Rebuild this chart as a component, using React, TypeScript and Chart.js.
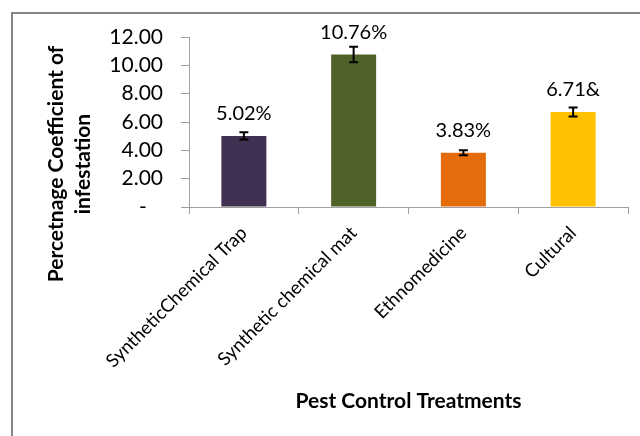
import React, { useEffect, useRef } from "react";
import { Chart, registerables } from "chart.js";

Chart.register(...registerables);

const categories = ["SyntheticChemical Trap", "Synthetic chemical mat", "Ethnomedicine", "Cultural"];
const values = [5.02, 10.76, 3.83, 6.71];
const errors = [0.25, 0.55, 0.17, 0.32];
const valueLabels = ["5.02%", "10.76%", "3.83%", "6.71&"];
const barColors = ["#403152", "#4F6228", "#E46C0A", "#FFC000"];
const yTicks = [0, 2, 4, 6, 8, 10, 12];
const yTitleLines = ["Percetnage Coefficient of", "infestation"];
const xTitle = "Pest Control Treatments";

const FONT = "Lato, 'Open Sans', sans-serif";

const decor = {
  id: "decor",
  beforeDraw(chart: any) {
    const ctx = chart.ctx;
    ctx.save();
    ctx.fillStyle = "#ffffff";
    ctx.fillRect(0, 0, chart.width, chart.height);
    ctx.fillStyle = "#868686";
    ctx.fillRect(11, 12, 2, chart.height - 12);
    ctx.fillRect(11, 12, chart.width - 11, 2);
    ctx.restore();
  },
  afterDatasetsDraw(chart: any) {
    const ctx = chart.ctx;
    const meta = chart.getDatasetMeta(0);
    const ys = chart.scales.y;
    ctx.save();
    meta.data.forEach((bar: any, i: number) => {
      const x = bar.x;
      const top = ys.getPixelForValue(values[i] + errors[i]);
      const bot = ys.getPixelForValue(values[i] - errors[i]);
      ctx.strokeStyle = "#000000";
      ctx.lineWidth = 2;
      ctx.beginPath();
      ctx.moveTo(x, top);
      ctx.lineTo(x, bot);
      ctx.moveTo(x - 4.5, top);
      ctx.lineTo(x + 4.5, top);
      ctx.moveTo(x - 4.5, bot);
      ctx.lineTo(x + 4.5, bot);
      ctx.stroke();
      ctx.fillStyle = "#000000";
      ctx.font = `20px ${FONT}`;
      ctx.textAlign = "center";
      ctx.textBaseline = "alphabetic";
      ctx.fillText(valueLabels[i], x, bar.y - 15.5);
    });
    // axis titles
    const area = chart.chartArea;
    ctx.fillStyle = "#000000";
    ctx.font = `bold 21px ${FONT}`;
    ctx.textAlign = "center";
    ctx.textBaseline = "alphabetic";
    ctx.fillText(xTitle, (area.left + area.right) / 2, 408);
    ctx.save();
    ctx.translate(0, 164);
    ctx.rotate(-Math.PI / 2);
    ctx.fillText(yTitleLines[0], 0, 63);
    ctx.fillText(yTitleLines[1], 0, 90);
    ctx.restore();
    ctx.restore();
  },
};

export default function App() {
  const ref = useRef<HTMLCanvasElement | null>(null);
  useEffect(() => {
    if (!ref.current) return;
    const chart = new Chart(ref.current, {
      type: "bar",
      data: {
        labels: categories,
        datasets: [
          {
            data: values,
            backgroundColor: barColors,
            borderWidth: 0,
            barPercentage: 0.41,
            categoryPercentage: 1,
          },
        ],
      },
      options: {
        responsive: false,
        animation: false,
        layout: { padding: { left: 12, top: 37, right: 12, bottom: 0 } },
        plugins: { legend: { display: false }, tooltip: { enabled: false } },
        scales: {
          x: {
            grid: { display: true, drawOnChartArea: false, tickLength: 7, color: "#A0A0A0", offset: true },
            border: { color: "#A0A0A0", width: 1 },
            ticks: {
              autoSkip: false,
              minRotation: 45,
              maxRotation: 45,
              padding: 8,
              color: "#000000",
              font: { family: FONT, size: 18.5 },
            },
            afterFit(s: any) {
              s.height = 229;
            },
          },
          y: {
            min: 0,
            max: 12,
            afterBuildTicks(s: any) {
              s.ticks = yTicks.map((v) => ({ value: v }));
            },
            ticks: {
              padding: 18,
              color: "#000000",
              font: { family: FONT, size: 21 },
              callback: (v: any) => (Number(v) === 0 ? "-   " : Number(v).toFixed(2)),
            },
            grid: { display: true, drawOnChartArea: false, tickLength: 8, color: "#A0A0A0" },
            border: { color: "#A0A0A0", width: 1 },
            afterFit(s: any) {
              s.width = 177;
            },
          },
        },
      },
      plugins: [decor],
    });
    return () => chart.destroy();
  }, []);
  return (
    <div style={{ position: "fixed", left: 0, top: 0, width: 640, height: 436, background: "#fff", overflow: "hidden" }}>
      <canvas ref={ref} width={640} height={436} style={{ display: "block", width: 640, height: 436 }} />
    </div>
  );
}
